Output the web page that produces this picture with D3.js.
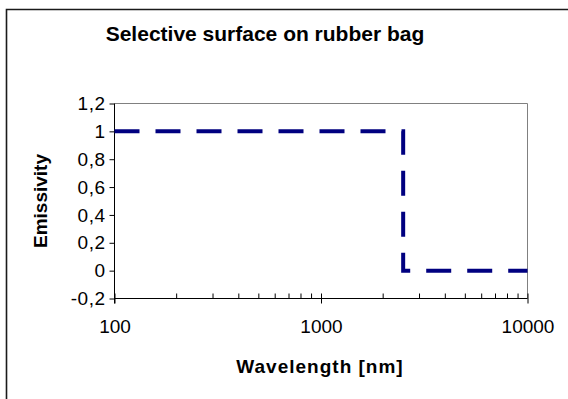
<!DOCTYPE html>
<html>
<head>
<meta charset="utf-8">
<script src="https://cdn.jsdelivr.net/npm/d3@7.9.0/dist/d3.min.js"></script>
<style>
  html, body { margin: 0; padding: 0; background: #fff; overflow: hidden; }
  svg { display: block; font-family: "Liberation Sans", Arial, sans-serif; }
</style>
</head>
<body>
<div id="chart"></div>
<script>
// data
const wavelengths = [100, 2500, 2500, 10000];
const emissivity  = [1, 1, 0, 0];
const yTicks = [-0.2, 0, 0.2, 0.4, 0.6, 0.8, 1, 1.2];
const xMajor = [100, 1000, 10000];
const xMinor = [200, 300, 400, 500, 600, 700, 800, 900,
                2000, 3000, 4000, 5000, 6000, 7000, 8000, 9000];

const width = 568, height = 399;
const plot = { left: 114.5, right: 527.5, top: 103.5, bottom: 298.5 };

const svg = d3.select('#chart').append('svg')
  .attr('width', width)
  .attr('height', height);

// outer chart frame: only left and top edges are inside the picture
svg.append('path')
  .attr('d', `M6.5,${height}V9.5H${width}`)
  .attr('fill', 'none')
  .attr('stroke', '#1a1a1a')
  .attr('stroke-width', 1.6);

const x = d3.scaleLog().domain([100, 10000]).range([plot.left, plot.right]);
const y = d3.scaleLinear().domain([-0.2, 1.2]).range([plot.bottom, plot.top]);

// gray top / right edge of plot area
svg.append('path')
  .attr('d', `M${plot.left},${plot.top}H${plot.right}V${plot.bottom}`)
  .attr('fill', 'none')
  .attr('stroke', '#808080')
  .attr('stroke-width', 1);

// y axis
const yAxis = svg.append('g')
  .attr('transform', `translate(${plot.left},0)`)
  .call(d3.axisLeft(y).tickValues(yTicks).tickSize(5).tickPadding(4)
    .tickFormat(d => String(+d.toFixed(1)).replace('.', ',')));
yAxis.select('.domain').attr('stroke', '#000').attr('d', `M0,${plot.top}V${plot.bottom + 5}`);
yAxis.selectAll('text').attr('font-size', 19).attr('letter-spacing', 0.5).attr('fill', '#000');

// x axis: major ticks cross the axis, minor ticks inside
const xAxis = svg.append('g')
  .attr('transform', `translate(0,${plot.bottom})`)
  .call(d3.axisBottom(x).tickValues(xMajor).tickSize(5).tickPadding(16)
    .tickFormat(d3.format('d')));
xAxis.select('.domain').attr('d', `M${plot.left},0H${plot.right}`).attr('stroke', '#000');
xAxis.selectAll('.tick line').attr('y1', -5).attr('y2', 5).attr('stroke', '#000');
xAxis.selectAll('text').attr('font-size', 19).attr('fill', '#000');

svg.append('g')
  .attr('transform', `translate(0,${plot.bottom})`)
  .selectAll('line')
  .data(xMinor)
  .join('line')
  .attr('x1', d => x(d)).attr('x2', d => x(d))
  .attr('y1', -5).attr('y2', 0)
  .attr('stroke', '#000');

// series
const points = wavelengths.map((w, i) => [w, emissivity[i]]);
svg.append('path')
  .datum(points)
  .attr('d', d3.line().x(d => x(d[0])).y(d => y(d[1])))
  .attr('fill', 'none')
  .attr('stroke', '#000080')
  .attr('stroke-width', 4)
  .attr('stroke-dasharray', '25,16');

// titles
svg.append('text')
  .attr('x', 265).attr('y', 41)
  .attr('text-anchor', 'middle')
  .attr('font-size', 21).attr('font-weight', 'bold')
  .text('Selective surface on rubber bag');

svg.append('text')
  .attr('x', 320).attr('y', 373)
  .attr('text-anchor', 'middle')
  .attr('font-size', 19).attr('font-weight', 'bold')
  .attr('letter-spacing', 1)
  .text('Wavelength [nm]');

svg.append('text')
  .attr('transform', 'translate(47,201) rotate(-90)')
  .attr('text-anchor', 'middle')
  .attr('font-size', 19).attr('font-weight', 'bold')
  .text('Emissivity');
</script>
</body>
</html>
